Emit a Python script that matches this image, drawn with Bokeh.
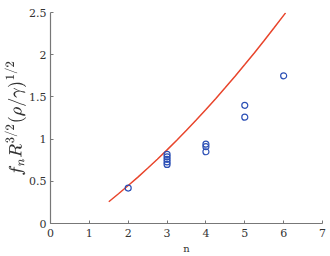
from bokeh.plotting import figure
from bokeh.embed import file_html
from bokeh.resources import INLINE
from bokeh.models import Range1d, FixedTicker

# measured points
obs_n = [2, 3, 3, 3, 3, 3, 4, 4, 4, 5, 5, 6]
obs_f = [0.42, 0.70, 0.73, 0.76, 0.79, 0.82, 0.85, 0.91, 0.94, 1.26, 1.40, 1.75]

# theory curve
th_n = [1.5, 1.75, 2.0, 2.25, 2.5, 2.75, 3.0, 3.25, 3.5, 3.75, 4.0, 4.25,
        4.5, 4.75, 5.0, 5.25, 5.5, 5.75, 6.0, 6.05]
th_f = [0.258, 0.353, 0.450, 0.550, 0.654, 0.761, 0.872, 0.986, 1.104, 1.226,
        1.350, 1.479, 1.611, 1.745, 1.883, 2.024, 2.168, 2.316, 2.466, 2.496]

x_ticks = [0, 1, 2, 3, 4, 5, 6, 7]
y_ticks = [0, 0.5, 1, 1.5, 2, 2.5]

p = figure(width=330, height=256, output_backend="svg", toolbar_location=None,
           x_range=Range1d(0, 7), y_range=Range1d(0, 2.5),
           min_border_left=50, min_border_right=8, min_border_top=12, min_border_bottom=29)
p.background_fill_color = "white"
p.border_fill_color = "white"
p.outline_line_color = None
p.grid.visible = False

p.line(th_n, th_f, line_color="#e8452c", line_width=1.5)
p.scatter(obs_n, obs_f, marker="circle", size=6, fill_color=None,
          line_color="#2b4fb5", line_width=1.2)

for ax in (p.xaxis[0], p.yaxis[0]):
    ax.axis_line_color = "#777777"
    ax.axis_line_width = 1.2
    ax.major_tick_in = 3
    ax.major_tick_out = 0
    ax.major_tick_line_color = "#777777"
    ax.minor_tick_line_color = None
    ax.major_label_text_font = "DejaVu Serif"
    ax.major_label_text_font_size = "11px"
    ax.major_label_text_color = "#333333"

p.xaxis.ticker = FixedTicker(ticks=x_ticks)
p.yaxis.ticker = FixedTicker(ticks=y_ticks)
p.xaxis.major_label_standoff = 5
p.yaxis.major_label_standoff = 4

p.xaxis.axis_label = "n"
p.xaxis.axis_label_text_font = "DejaVu Serif"
p.xaxis.axis_label_text_font_style = "normal"
p.xaxis.axis_label_text_font_size = "10px"
p.xaxis.axis_label_text_color = "#333333"
p.xaxis.axis_label_standoff = 3

p.yaxis.axis_label = r"$$f_n R^{3/2}(\rho/\gamma)^{1/2}$$"
p.yaxis.axis_label_text_font_size = "14px"
p.yaxis.axis_label_text_color = "#333333"
p.yaxis.axis_label_standoff = 0

open("out.html", "w").write(file_html(p, INLINE))
